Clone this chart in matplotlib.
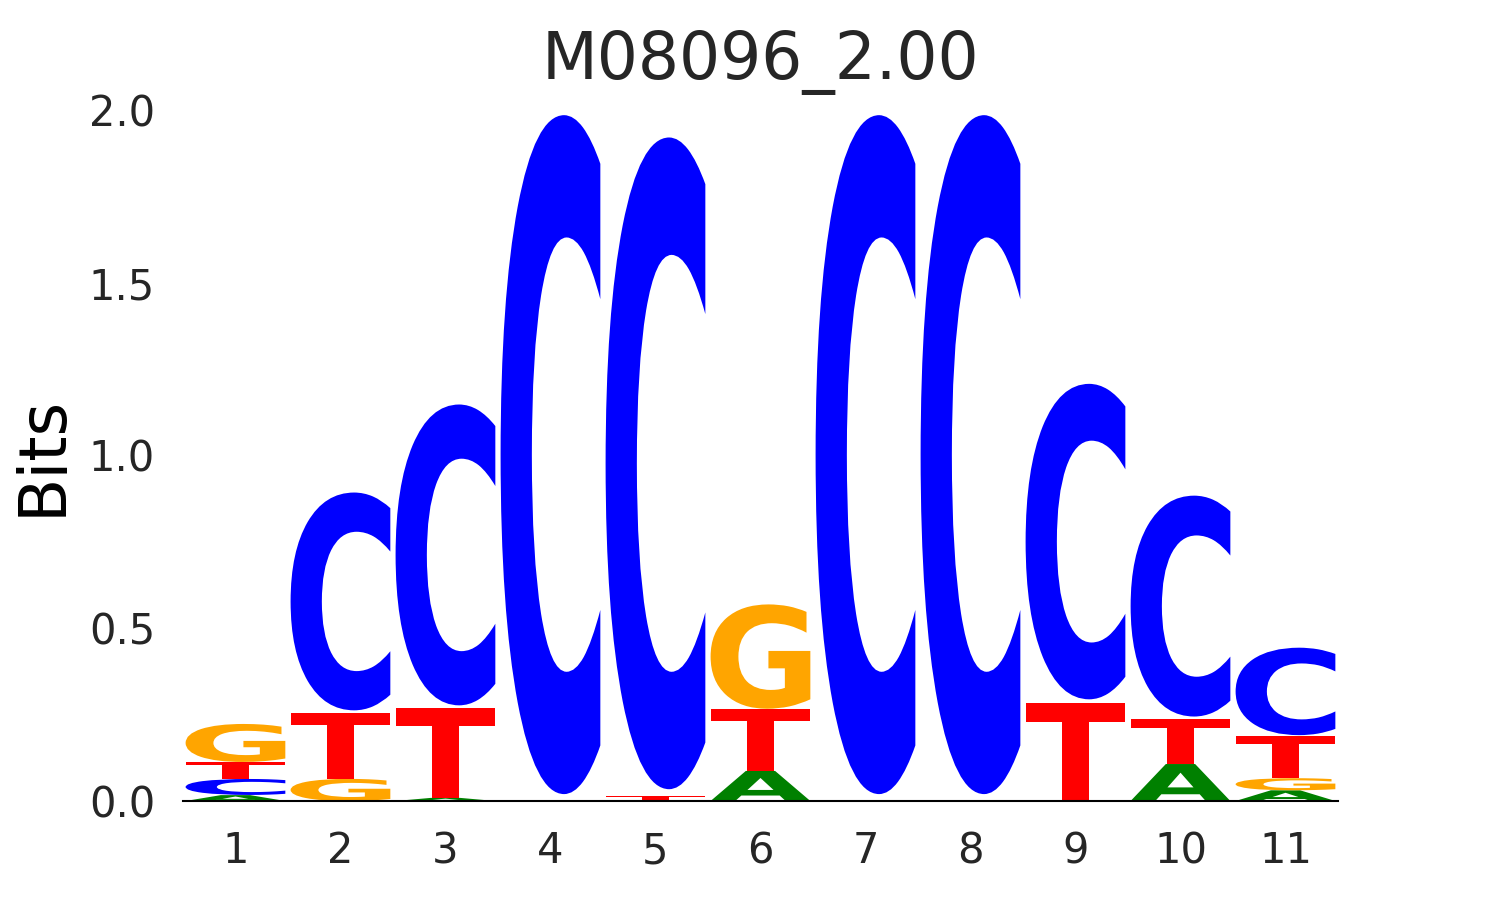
import matplotlib
matplotlib.use("Agg")
import matplotlib.pyplot as plt
from matplotlib.textpath import TextPath
from matplotlib.patches import PathPatch
from matplotlib.font_manager import FontProperties
from matplotlib.transforms import Affine2D

# bits carried by each base at positions 1..11
positions = list(range(1, 12))
bits_A = [0.017, 0.000, 0.009, 0.000, 0.000, 0.087, 0.000, 0.000, 0.000, 0.107, 0.031]
bits_C = [0.047, 0.640, 0.884, 1.995, 1.915, 0.000, 1.995, 1.995, 0.927, 0.649, 0.257]
bits_G = [0.110, 0.064, 0.000, 0.000, 0.000, 0.302, 0.000, 0.000, 0.000, 0.000, 0.035]
bits_T = [0.049, 0.192, 0.259, 0.000, 0.015, 0.180, 0.000, 0.000, 0.285, 0.131, 0.122]

colors = {"A": "green", "C": "#0000ff", "G": "orange", "T": "#ff0000"}
# the round C sits a little inside its box (bottom, top fraction)
vpad = {"C": (0.010, 0.005)}
FONT = FontProperties(family="DejaVu Sans", weight="bold")

plt.rcParams["text.color"] = "#262626"
plt.rcParams["xtick.color"] = "#262626"
plt.rcParams["ytick.color"] = "#262626"


def draw_letter(ax, ch, x, y, w, h, color):
    # stretch the glyph outline to fill its box in data units
    tp = TextPath((0, 0), ch, size=1, prop=FONT)
    ext = tp.get_extents()
    pb, pt = vpad.get(ch, (0.0, 0.0))
    gh = h * (1 - pb - pt)
    t = (Affine2D().translate(-ext.x0, -ext.y0)
         .scale(w / ext.width, gh / ext.height)
         .translate(x - w / 2, y + pb * h))
    ax.add_patch(PathPatch(t.transform_path(tp), fc=color, ec="none", lw=0))


fig = plt.figure(figsize=(14.85, 9), dpi=100)
ax = fig.add_axes([0.1232, 0.11, 0.7778, 0.7678])

for i, pos in enumerate(positions):
    stack = [("A", bits_A[i]), ("C", bits_C[i]), ("G", bits_G[i]), ("T", bits_T[i])]
    stack.sort(key=lambda s: s[1])
    bottom = 0.0
    for ch, h in stack:
        if h <= 0:
            continue
        draw_letter(ax, ch, pos, bottom, 0.95, h, colors[ch])
        bottom += h

ax.set_xlim(0.5, 11.5)
ax.set_ylim(0, 2.0)
ax.set_xticks(positions)
ax.set_yticks([0.0, 0.5, 1.0, 1.5, 2.0])
ax.set_yticklabels(["0.0", "0.5", "1.0", "1.5", "2.0"])
ax.tick_params(axis="both", length=0, labelsize=30)
ax.tick_params(axis="x", pad=21)
ax.tick_params(axis="y", pad=20)
for side in ["top", "right", "left"]:
    ax.spines[side].set_visible(False)
ax.spines["bottom"].set_color("black")
ax.spines["bottom"].set_linewidth(1.5)
ax.set_ylabel("Bits", fontsize=46.5, labelpad=10)
ax.set_title("M08096_2.00", fontsize=46.5, pad=22)

plt.savefig("out.png")
